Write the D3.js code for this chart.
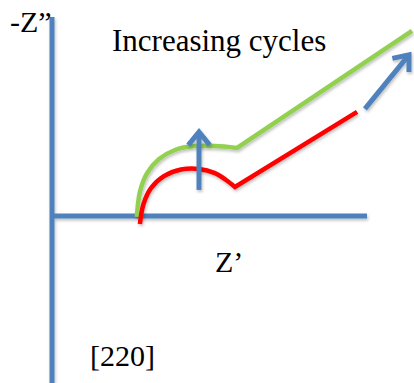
<!DOCTYPE html>
<html>
<head>
<meta charset="utf-8">
<script src="https://cdn.jsdelivr.net/npm/d3@7"></script>
<style>
  body { margin: 0; background: #fff; }
</style>
</head>
<body>
<div id="chart"></div>
<script>
// Schematic Nyquist plot: impedance arcs growing with cycle number

// Axis extents (Z' and -Z'' in arbitrary units)
var zReAxis = [0, 105];
var zImAxis = [-56, 66.3];

// Initial cycle: arc plus diffusion tail
var redArc = [[29.3, -2.7], [30.5, 4], [33, 9.3], [37.3, 13.3], [43, 15.5], [49, 15.7], [54.3, 14.3], [58, 12], [61, 9.7]];
var redTail = [[61, 9.7], [101.7, 34.7]];

// After cycling: larger arc plus tail
var greenArc = [[28.3, -0.3], [29.3, 8], [31.7, 14.3], [35.7, 19], [41, 22], [47.3, 23.3], [54.3, 23.3], [61.7, 22.7]];
var greenTail = [[61.7, 22.7], [120, 61.7]];

// Trend arrows
var arrows = [
  [[49, 8.7], [49, 28]],
  [[104.3, 35.7], [119, 53.7]]
];

var labels = [
  { text: "-Z\u201d", at: [-14, 61.3], size: 30 },
  { text: "Increasing cycles", at: [20, 55], size: 31 },
  { text: "Z\u2019", at: [54.3, -18.7], size: 30 },
  { text: "[220]", at: [12.7, -50], size: 30 }
];

var width = 414, height = 383;

var x = d3.scaleLinear().domain([0, 120]).range([52, 412]);
var y = d3.scaleLinear().domain([0, 66]).range([216, 18]);

var svg = d3.select("#chart")
  .append("svg")
  .attr("width", width)
  .attr("height", height);

// soft shadow like office shapes
var defs = svg.append("defs");
var f = defs.append("filter").attr("id", "shadow")
  .attr("x", "-20%").attr("y", "-20%").attr("width", "140%").attr("height", "140%");
f.append("feDropShadow")
  .attr("dx", 1).attr("dy", 2).attr("stdDeviation", 1.5)
  .attr("flood-color", "#000").attr("flood-opacity", 0.25);

var blue = "#4f81bd";

// axes
var axes = svg.append("g").attr("filter", "url(#shadow)");
axes.append("line")
  .attr("x1", x(0)).attr("x2", x(0))
  .attr("y1", y(zImAxis[1])).attr("y2", y(zImAxis[0]))
  .attr("stroke", blue).attr("stroke-width", 5);
axes.append("line")
  .attr("x1", x(zReAxis[0])).attr("x2", x(zReAxis[1]))
  .attr("y1", y(0)).attr("y2", y(0))
  .attr("stroke", blue).attr("stroke-width", 5);

var arcLine = d3.line()
  .x(function (d) { return x(d[0]); })
  .y(function (d) { return y(d[1]); })
  .curve(d3.curveCatmullRom.alpha(0.5));
var straight = d3.line()
  .x(function (d) { return x(d[0]); })
  .y(function (d) { return y(d[1]); });

var curves = svg.append("g").attr("filter", "url(#shadow)")
  .attr("fill", "none")
  .attr("stroke-width", 4.5)
  .attr("stroke-linejoin", "miter");

curves.append("path").attr("d", arcLine(greenArc) + straight(greenTail).replace("M", "L"))
  .attr("stroke", "#92d050");
curves.append("path").attr("d", arcLine(redArc) + straight(redTail).replace("M", "L"))
  .attr("stroke", "#ff0000");

// arrows with open chevron heads
var arrowG = svg.append("g").attr("filter", "url(#shadow)")
  .attr("fill", "none")
  .attr("stroke", blue)
  .attr("stroke-width", 5);

arrows.forEach(function (a) {
  var x0 = x(a[0][0]), y0 = y(a[0][1]);
  var x1 = x(a[1][0]), y1 = y(a[1][1]);
  var ang = Math.atan2(y1 - y0, x1 - x0);
  var len = 17, spread = Math.PI / 4.6;
  arrowG.append("line")
    .attr("x1", x0).attr("y1", y0)
    .attr("x2", x1 - 2 * Math.cos(ang)).attr("y2", y1 - 2 * Math.sin(ang));
  arrowG.append("path")
    .attr("stroke-linejoin", "miter")
    .attr("d", "M" + (x1 - len * Math.cos(ang - spread)) + "," + (y1 - len * Math.sin(ang - spread)) +
      "L" + x1 + "," + y1 +
      "L" + (x1 - len * Math.cos(ang + spread)) + "," + (y1 - len * Math.sin(ang + spread)));
});

svg.selectAll("text.lbl")
  .data(labels)
  .enter()
  .append("text")
  .attr("class", "lbl")
  .attr("x", function (d) { return x(d.at[0]); })
  .attr("y", function (d) { return y(d.at[1]); })
  .attr("font-family", "Liberation Serif")
  .attr("font-size", function (d) { return d.size; })
  .attr("fill", "#000")
  .text(function (d) { return d.text; });
</script>
</body>
</html>
